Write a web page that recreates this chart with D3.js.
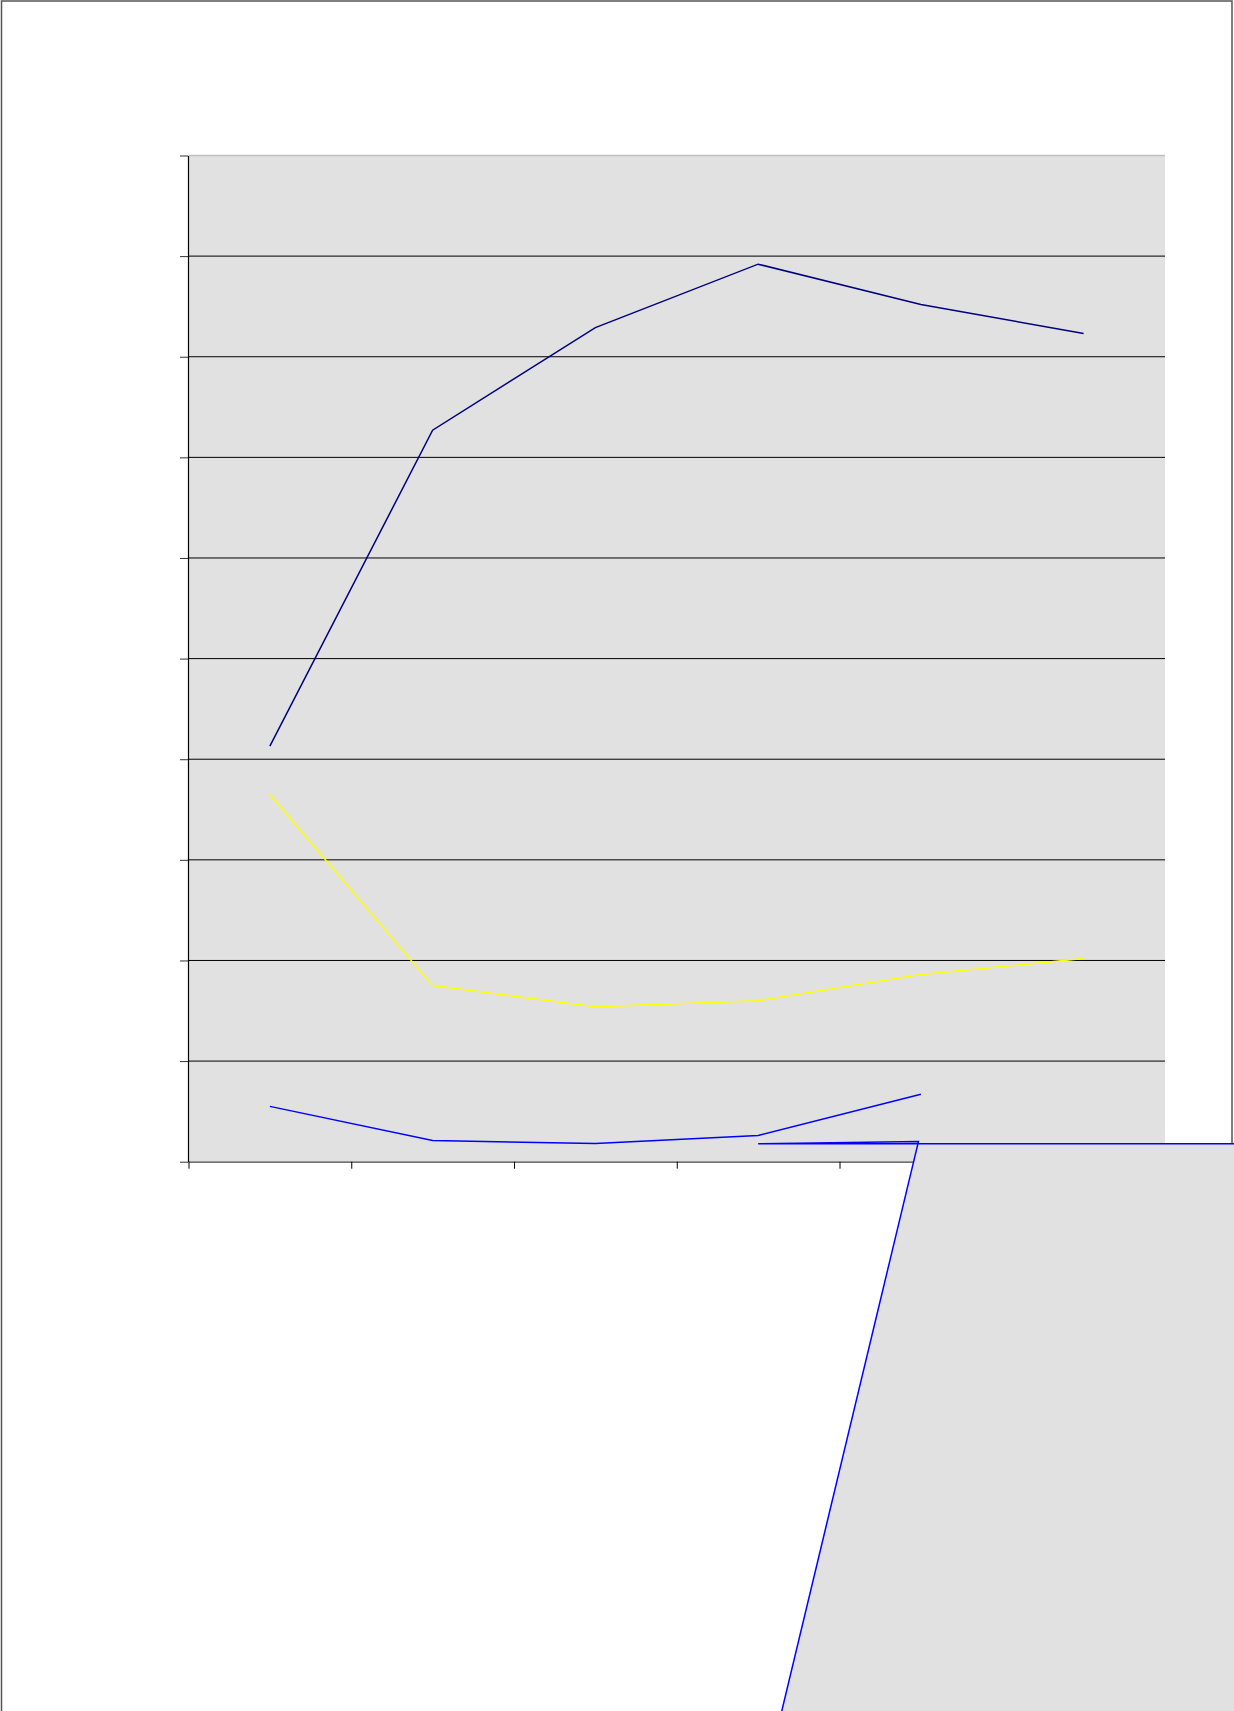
<!DOCTYPE html>
<html>
<head>
<meta charset="utf-8">
<script src="https://cdn.jsdelivr.net/npm/d3@7"></script>
<style>
  html, body { margin: 0; padding: 0; background: #fff; overflow: hidden; }
  svg { display: block; }
</style>
</head>
<body>
<div id="chart"></div>
<script>
// Category slots (the chart shows no labels)
const categories = [0, 1, 2, 3, 4, 5];
const yTicks = [0, 10, 20, 30, 40, 50, 60, 70, 80, 90, 100];
const xBoundaries = [-0.5, 0.5, 1.5, 2.5, 3.5, 4.5];

// Series values
const navySeries = [41.3, 72.7, 82.9, 89.2, 85.2, 82.3];
const yellowSeries = [36.5, 17.5, 15.4, 16.0, 18.6, 20.2];
const blueSeries = [5.5, 2.1, 1.8, 2.6, 6.7]; // stops at the fifth category

// Stray filled shape that runs out of the plot (category index, value)
const strayShape = [[3, 1.79], [3.985, 2.0], [3.065, -60], [7, -60], [7, 1.79]];

const W = 1234, H = 1711;
const plot = {left: 188.5, right: 1165, top: 155.5, bottom: 1161.7};

const svg = d3.select("#chart").append("svg")
    .attr("width", W)
    .attr("height", H);

const x = d3.scaleLinear().domain([-0.5, 5.5]).range([plot.left, plot.right]);
const y = d3.scaleLinear().domain([0, 100]).range([plot.bottom, plot.top]);

// Outer chart border
svg.append("rect")
    .attr("x", 1.5).attr("y", 1)
    .attr("width", 1230.5).attr("height", 1800)
    .attr("fill", "#fff")
    .attr("stroke", "#555")
    .attr("stroke-width", 1.5);

// Plot background
svg.append("rect")
    .attr("x", x(-0.5)).attr("y", y(100))
    .attr("width", x(5.5) - x(-0.5))
    .attr("height", y(0) - y(100))
    .attr("fill", "#e1e1e1");

// top edge of plot area
svg.append("line")
    .attr("x1", x(-0.5)).attr("x2", x(5.5))
    .attr("y1", y(100)).attr("y2", y(100))
    .attr("stroke", "#c0c0c0")
    .attr("stroke-width", 1.5);

// Gridlines
svg.append("g")
    .selectAll("line")
    .data(yTicks.filter(d => d > 0 && d < 100))
    .join("line")
    .attr("x1", x(-0.5)).attr("x2", x(5.5))
    .attr("y1", d => y(d)).attr("y2", d => y(d))
    .attr("stroke", "#000")
    .attr("stroke-width", 1);

// Axes
const yAxis = svg.append("g")
    .attr("transform", `translate(${plot.left - 0.5},0)`)
    .call(d3.axisLeft(y).tickValues(yTicks).tickSize(8).tickSizeOuter(0).tickFormat(""));
yAxis.select(".domain").attr("stroke", "#000").attr("stroke-width", 1.2);
yAxis.selectAll(".tick line").attr("stroke", "#333");

const xAxis = svg.append("g")
    .attr("transform", `translate(0,${plot.bottom})`)
    .call(d3.axisBottom(x).tickValues(xBoundaries).tickSize(7).tickSizeOuter(0).tickFormat(""));
xAxis.select(".domain").attr("stroke", "#444").attr("stroke-width", 1.3);
xAxis.selectAll(".tick line").attr("stroke", "#000");

// Lines
const line = d3.line()
    .x((d, i) => x(categories[i]))
    .y(d => y(d));

const series = [
    {values: navySeries, color: "#000080"},
    {values: yellowSeries, color: "#ffff00"},
    {values: blueSeries, color: "#0000ff"}
];

svg.append("g")
    .selectAll("path")
    .data(series)
    .join("path")
    .attr("fill", "none")
    .attr("stroke", d => d.color)
    .attr("stroke-width", 1.5)
    .attr("d", d => line(d.values));

// Stray shape drawn on top
svg.append("path")
    .datum(strayShape)
    .attr("fill", "#e1e1e1")
    .attr("fill-rule", "evenodd")
    .attr("stroke", "#0000ff")
    .attr("stroke-width", 1.5)
    .attr("d", d3.line().x(d => x(d[0])).y(d => y(d[1])).curve(d3.curveLinearClosed));
</script>
</body>
</html>
